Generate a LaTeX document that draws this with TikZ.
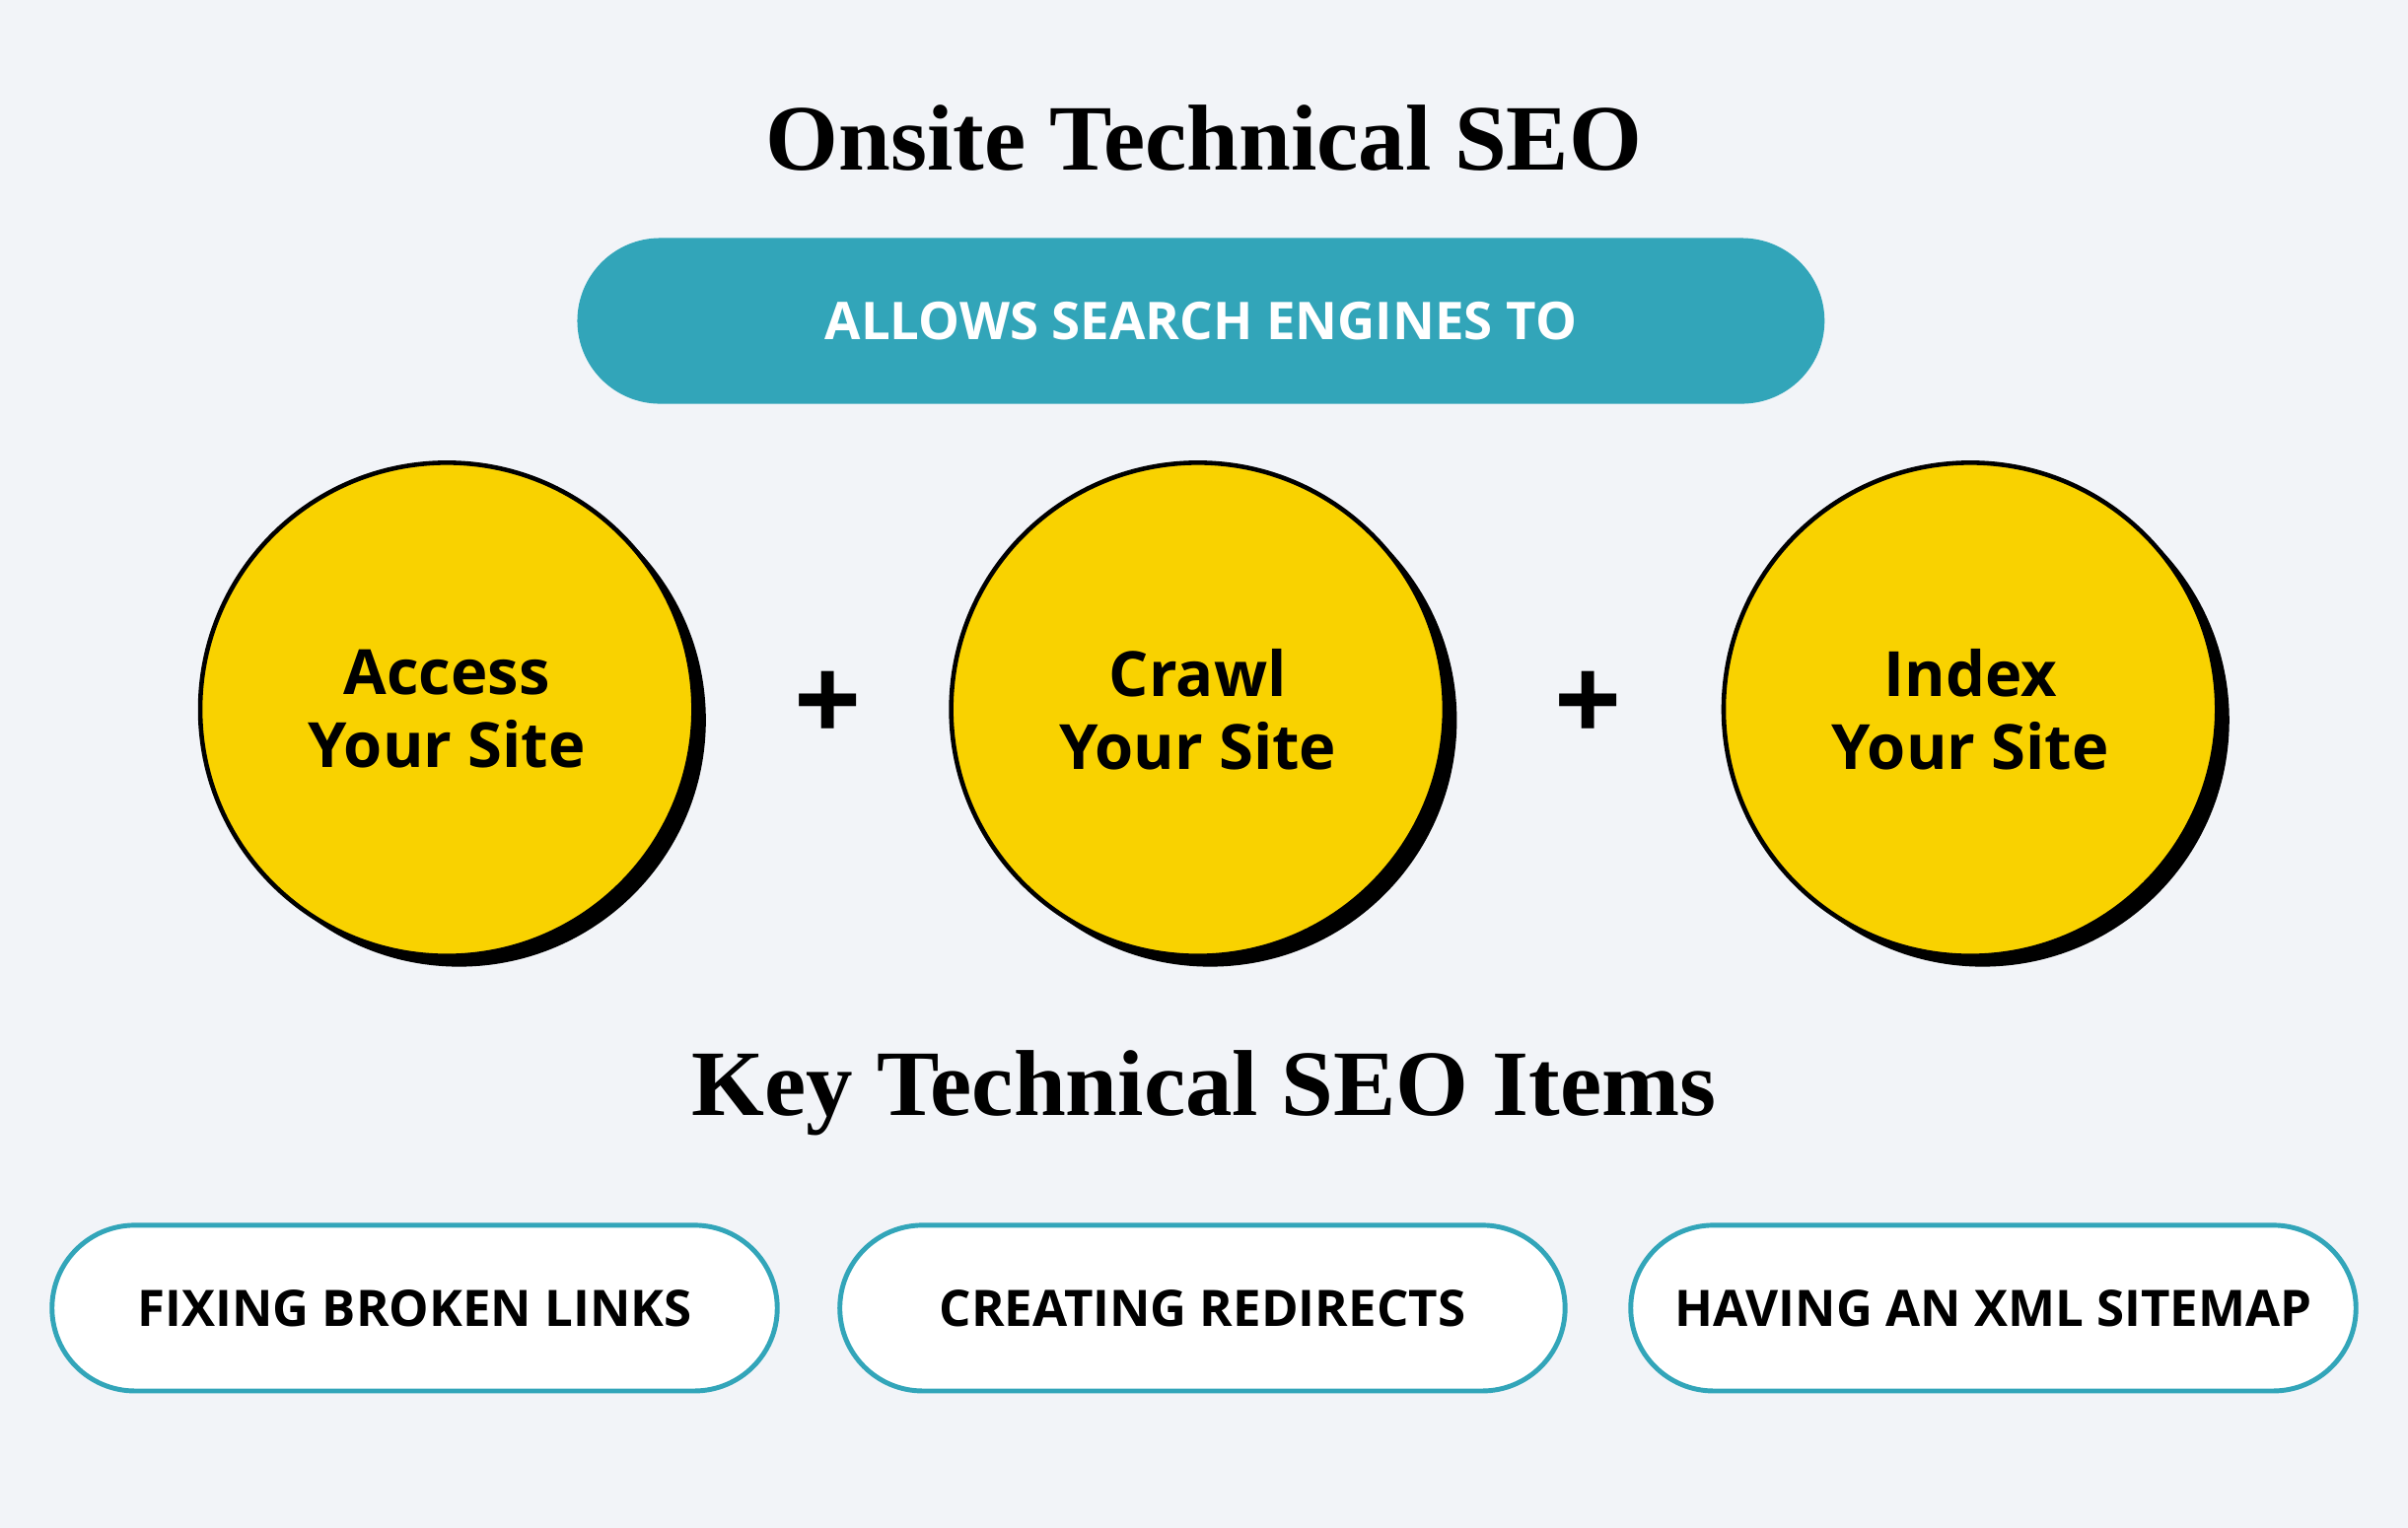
\documentclass[tikz,border=0pt]{standalone}
\usepackage{fontspec}
\setmainfont{Liberation Serif}
\setsansfont{Open Sans}
\usetikzlibrary{positioning}
\definecolor{bgcol}{HTML}{F2F4F8}
\definecolor{tealcol}{HTML}{32A5B9}
\definecolor{yelcol}{HTML}{F9D200}
\tikzset{
	title/.style={font=\rmfamily\bfseries\fontsize{27}{30}\selectfont, text=black},
	toppill/.style={fill=tealcol, rounded corners=0.84cm, minimum width=12.64cm, minimum height=1.68cm, text=white, font=\sffamily\bfseries\fontsize{15}{18}\selectfont},
	ball/.style={circle, draw=black, line width=1.3pt, fill=yelcol, minimum size=5.0cm, align=center, font=\sffamily\bfseries\fontsize{18}{21}\selectfont},
	shade/.style={circle, fill=black, minimum size=5.0cm},
	item/.style={draw=tealcol, line width=1.4pt, fill=white, rounded corners=0.84cm, minimum width=7.35cm, minimum height=1.68cm, font=\sffamily\bfseries\fontsize{14.5}{18}\selectfont},
	plus/.style={font=\sffamily\bfseries\fontsize{34}{34}\selectfont}
}
\begin{document}
\begin{tikzpicture}[x=0.01557cm, y=-0.01557cm]
	\fill[bgcol] (0,0) rectangle (1568,995);
	\useasboundingbox (0,0) rectangle (1568,995);
	\node[title] (head) at (784,90) {Onsite Technical SEO};
	\node[toppill] (allow) at (782,209) {ALLOWS SEARCH ENGINES TO};
	% shadows
	\node[shade] (s1) at (299,469) {};
	\node[shade] (s2) at (788,469) {};
	\node[shade] (s3) at (1291,469) {};
	\node[ball] (access) at (291,462) {Access\\Your Site};
	\node[ball] (crawl) at (780,462) {Crawl\\Your Site};
	\node[ball] (index) at (1283,462) {Index\\Your Site};
	\node[plus] (p1) at (539,460) {+};
	\node[plus] (p2) at (1034,460) {+};
	\node[title] (keyhead) at (784,712) {Key Technical SEO Items};
	\node[item] (fix) at (270,852) {FIXING BROKEN LINKS};
	\node[item] (redir) at (783,852) {CREATING REDIRECTS};
	\node[item] (xml) at (1298,852) {HAVING AN XML SITEMAP};
\end{tikzpicture}
\end{document}
